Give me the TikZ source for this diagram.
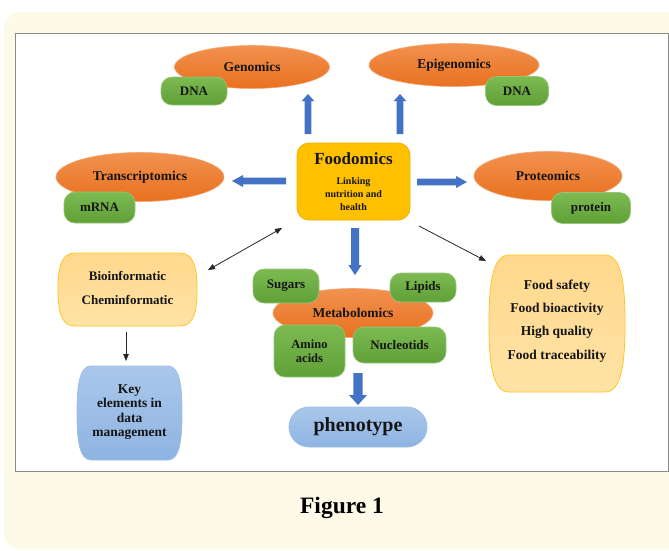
\documentclass[tikz,border=0pt]{standalone}
\usepackage{fontspec}
\setmainfont{Liberation Serif}
\usetikzlibrary{shapes.geometric,arrows.meta,calc}
\definecolor{cream}{HTML}{FEFAE8}
\definecolor{panelgray}{HTML}{8A8A8A}
\definecolor{orangeT}{HTML}{F2914F}
\definecolor{orangeB}{HTML}{E8711F}
\definecolor{orangeL}{HTML}{F4A774}
\definecolor{greenT}{HTML}{7DBA52}
\definecolor{greenB}{HTML}{5FA037}
\definecolor{greenL}{HTML}{97C67A}
\definecolor{gold}{HTML}{FFC000}
\definecolor{goldD}{HTML}{EDB200}
\definecolor{lorT}{HTML}{FFD88C}
\definecolor{lorB}{HTML}{FFE3A6}
\definecolor{lorL}{HTML}{FFC526}
\definecolor{bluT}{HTML}{A9C7EA}
\definecolor{bluB}{HTML}{8FB4E2}
\definecolor{bluL}{HTML}{9DBFE6}
\definecolor{barrowc}{HTML}{4472C4}
\definecolor{txt}{HTML}{151515}
% barrel shape: cx cy halfw halfh inset style
\newcommand\barrelpath[6]{%
  \path[#6] (#1-#3+#5,#2-#4) -- (#1+#3-#5,#2-#4)
    .. controls (#1+#3-0.15*#5,#2-#4) and (#1+#3,#2-0.55*#4) .. (#1+#3,#2)
    .. controls (#1+#3,#2+0.55*#4) and (#1+#3-0.15*#5,#2+#4) .. (#1+#3-#5,#2+#4)
    -- (#1-#3+#5,#2+#4)
    .. controls (#1-#3+0.15*#5,#2+#4) and (#1-#3,#2+0.55*#4) .. (#1-#3,#2)
    .. controls (#1-#3,#2-0.55*#4) and (#1-#3+0.15*#5,#2-#4) .. cycle;}
% vertical block arrow: x ystart ybase ytip halfshaft halfhead
\newcommand\varrow[6]{%
  \fill[barrowc] (#1-#5,#2) -- (#1-#5,#3) -- (#1-#6,#3) -- (#1,#4) -- (#1+#6,#3) -- (#1+#5,#3) -- (#1+#5,#2) -- cycle;}
% horizontal block arrow: y xstart xbase xtip halfshaft halfhead
\newcommand\harrow[6]{%
  \fill[barrowc] (#2,#1-#5) -- (#3,#1-#5) -- (#3,#1-#6) -- (#4,#1) -- (#3,#1+#6) -- (#3,#1+#5) -- (#2,#1+#5) -- cycle;}
\begin{document}
\begin{tikzpicture}[x=1pt,y=-1pt,
  every node/.style={inner sep=0pt, text=txt},
  omics/.style={ellipse, top color=orangeT, bottom color=orangeB, draw=orangeL, line width=0.6pt,
    font=\bfseries\fontsize{13.5}{16}\selectfont},
  gbox/.style={rectangle, rounded corners=11pt, top color=greenT, bottom color=greenB, draw=greenL,
    line width=0.6pt, align=center, font=\bfseries\fontsize{13}{14}\selectfont},
  lorange/.style={top color=lorT, bottom color=lorB, draw=lorL, line width=0.8pt},
  lblue/.style={top color=bluT, bottom color=bluB, draw=bluL, line width=0.8pt},
  thinarr/.style={draw=black!85, line width=0.8pt},
  tip/.style={Triangle[length=7pt,width=5.5pt]}
]
\useasboundingbox (0,0) rectangle (669,550);
% background
\fill[cream, rounded corners=16pt] (4,12) rectangle (700,549);
\draw[panelgray, fill=white, line width=0.9pt] (15,33) rectangle (668,471);

% omics ellipses
\node[omics, minimum width=155pt, minimum height=43pt] (genomics) at (252,67) {Genomics};
\node[omics, minimum width=170pt, minimum height=43pt] (epigenomics) at (454,65) {Epigenomics};
\node[omics, minimum width=168pt, minimum height=49pt] (transcriptomics) at (140,177) {Transcriptomics};
\node[omics, minimum width=148pt, minimum height=49pt] (proteomics) at (548,176) {Proteomics};
\node[omics, minimum width=160pt, minimum height=49pt] (metabolomics) at (353,313) {Metabolomics};

% green boxes
\node[gbox, minimum width=66pt, minimum height=28pt] (dna1) at (194,91) {DNA};
\node[gbox, minimum width=63pt, minimum height=29pt] (dna2) at (517,91) {DNA};
\node[gbox, minimum width=71pt, minimum height=31pt] (mrna) at (99.5,207.5) {mRNA};
\node[gbox, minimum width=79pt, minimum height=31pt] (protein) at (591,208) {protein};
\node[gbox, minimum width=66pt, minimum height=34pt] (sugars) at (286,286) {Sugars};
\node[gbox, minimum width=66pt, minimum height=29pt] (lipids) at (423,287.5) {Lipids};
\node[gbox, minimum width=71pt, minimum height=52pt, font=\bfseries\fontsize{12.5}{14}\selectfont] (amino) at (309.5,351) {Amino\\acids};
\node[gbox, minimum width=93pt, minimum height=36pt] (nucleotids) at (399.5,345) {Nucleotids};

% Foodomics
\node[rectangle, rounded corners=12pt, fill=gold, draw=goldD, line width=0.8pt,
  minimum width=113pt, minimum height=77pt, align=center,
  font=\bfseries\fontsize{10}{12.8}\selectfont] (food) at (353.5,181.5)
  {{\fontsize{17}{19}\selectfont Foodomics}\\[7pt]Linking\\nutrition and\\health};

% barrel boxes
\barrelpath{127.5}{289.5}{69.5}{36.5}{17}{lorange}
\node[align=center, font=\bfseries\fontsize{13}{24}\selectfont] (bioinf) at (127.5,288) {Bioinformatic\\Cheminformatic};
\barrelpath{129.5}{413}{52.5}{47}{14}{lblue}
\node[align=center, font=\bfseries\fontsize{13.5}{14.5}\selectfont] (keyel) at (129.5,412) {Key\\elements in\\data\\management};
\barrelpath{557}{323.5}{68}{68.5}{20}{lorange}
\node[align=center, font=\bfseries\fontsize{13.5}{23.3}\selectfont] (foodsafety) at (557,321) {Food safety\\Food bioactivity\\High quality\\Food traceability};

% phenotype
\node[rectangle, rounded corners=20pt, lblue, minimum width=138pt, minimum height=40pt,
  font=\bfseries\fontsize{20}{22}\selectfont] (phenotype) at (358,427) {phenotype};

% block arrows
\varrow{308}{134}{101}{94}{3.3}{6.3}
\varrow{400}{134}{101}{94}{3.3}{6.3}
\harrow{181}{286}{243}{232}{3.4}{6}
\harrow{182}{417}{456}{467}{3.4}{6}
\varrow{355}{228}{265}{275}{4}{6.6}
\varrow{358}{373}{395}{405}{4.6}{9}

% thin arrows
\coordinate (d1) at (282,228);
\coordinate (d2) at (208,270);
\draw[thinarr, {Triangle[length=7pt,width=5.5pt]}-{Triangle[length=7pt,width=5.5pt]}] (d1) -- (d2);
\coordinate (r1) at (419,226);
\coordinate (r2) at (486,261);
\draw[thinarr, -{Triangle[length=7pt,width=5.5pt]}] (r1) -- (r2);
\coordinate (b1) at (126,332);
\coordinate (b2) at (126,361);
\draw[thinarr, -{Triangle[length=7pt,width=5.5pt]}] (b1) -- (b2);

% caption
\node[font=\bfseries\fontsize{23.5}{26}\selectfont, text=black] (caption) at (342,508) {Figure 1};
\end{tikzpicture}
\end{document}
